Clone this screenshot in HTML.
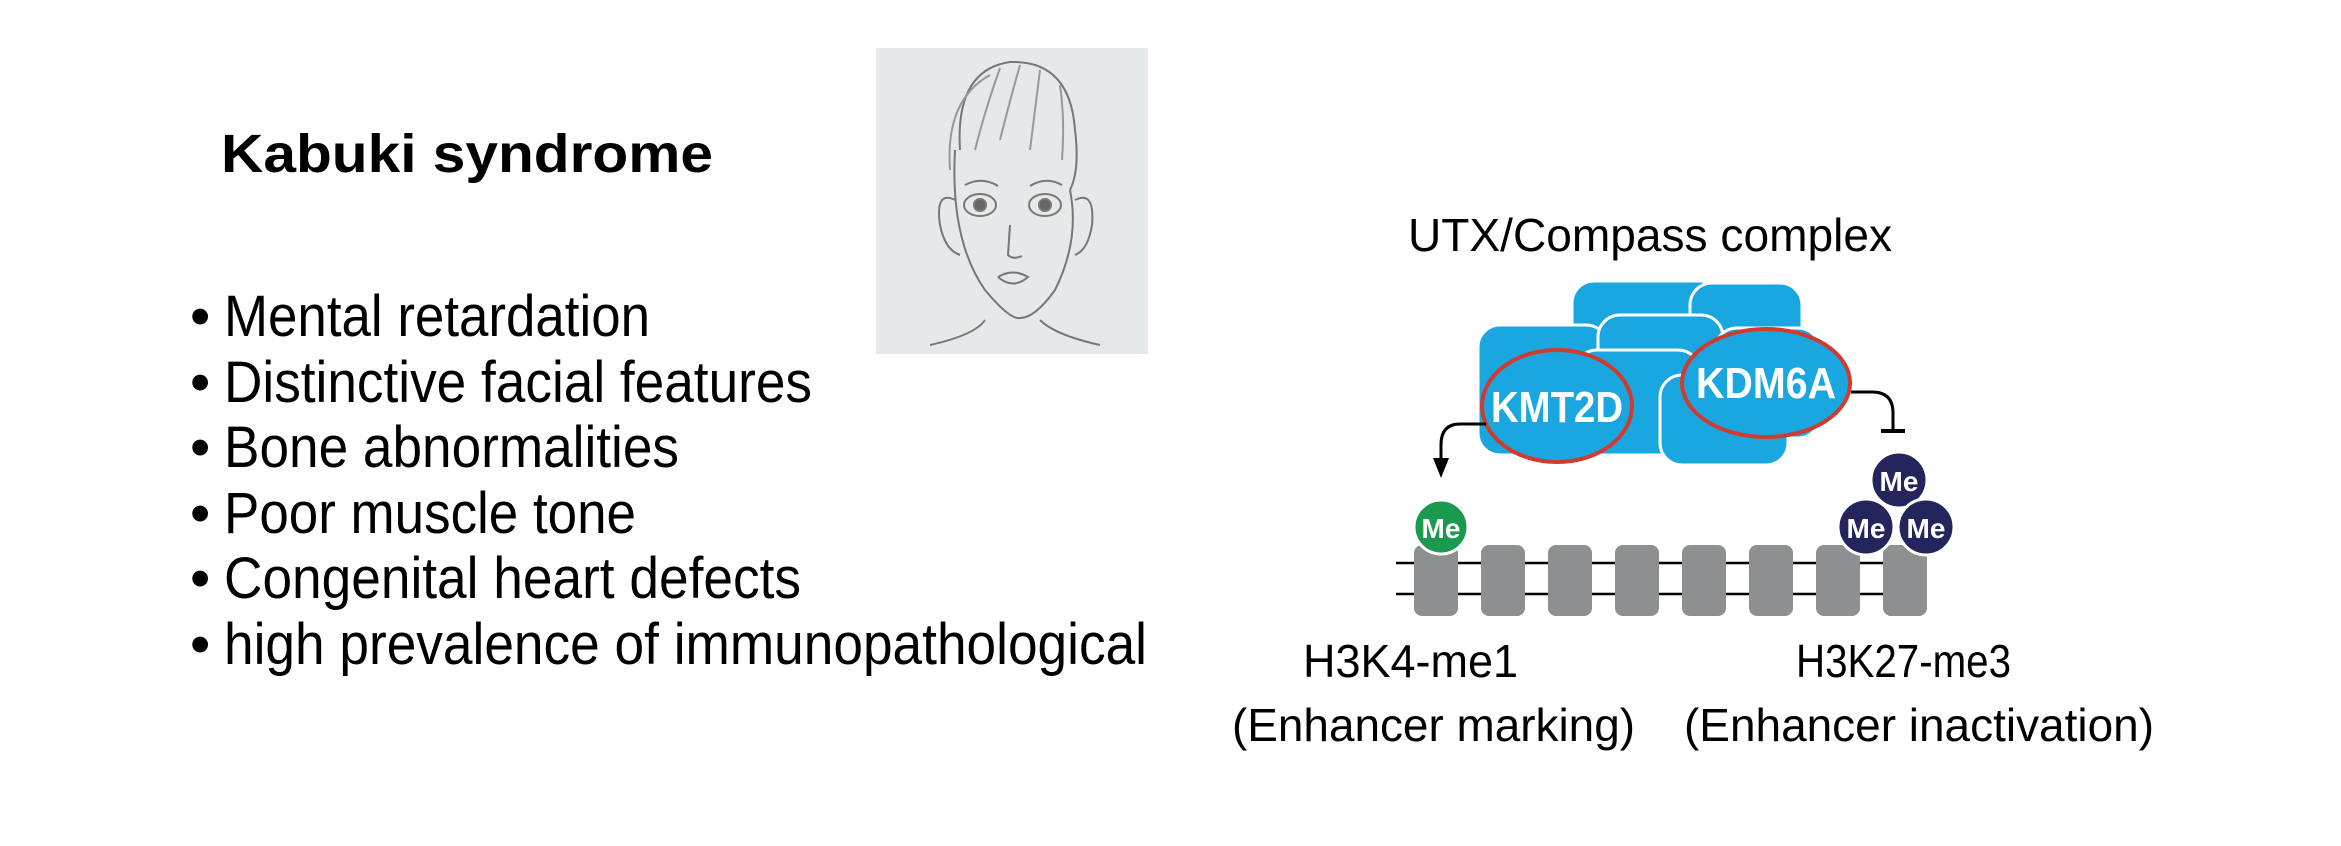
<!DOCTYPE html>
<html><head><style>
html,body{margin:0;padding:0;background:#fff;}
svg{display:block;}
</style></head><body>
<svg width="2341" height="846" viewBox="0 0 2341 846" xmlns="http://www.w3.org/2000/svg" font-family="Liberation Sans, Arial, sans-serif">
<rect width="2341" height="846" fill="#fff"/>
<text x="221" y="172" font-size="54" font-weight="bold" textLength="492" lengthAdjust="spacingAndGlyphs">Kabuki syndrome</text>
<g font-size="58">
<text x="190" y="336">•</text><text x="224" y="336" textLength="426" lengthAdjust="spacingAndGlyphs">Mental retardation</text>
<text x="190" y="402">•</text><text x="224" y="402" textLength="588" lengthAdjust="spacingAndGlyphs">Distinctive facial features</text>
<text x="190" y="467">•</text><text x="224" y="467" textLength="455" lengthAdjust="spacingAndGlyphs">Bone abnormalities</text>
<text x="190" y="533">•</text><text x="224" y="533" textLength="412" lengthAdjust="spacingAndGlyphs">Poor muscle tone</text>
<text x="190" y="598">•</text><text x="224" y="598" textLength="577" lengthAdjust="spacingAndGlyphs">Congenital heart defects</text>
<text x="190" y="664">•</text><text x="224" y="664" textLength="923" lengthAdjust="spacingAndGlyphs">high prevalence of immunopathological</text>
</g>
<!-- face sketch -->
<rect x="876" y="48" width="272" height="306" fill="#e6e9ea"/>
<g fill="none" stroke="#777" stroke-width="2">
<path d="M960 150 Q955 70 1010 62 Q1070 60 1075 130 Q1080 170 1070 190"/>
<path d="M955 150 Q950 240 985 290 Q1010 320 1020 318 Q1035 318 1055 290 Q1080 240 1070 190"/>
<path d="M950 170 Q945 100 990 75 M1000 68 Q985 110 975 150 M1020 65 Q1010 100 1000 140 M1040 70 Q1035 110 1030 150 M1060 85 Q1065 120 1062 160" stroke="#999"/>
<path d="M955 200 Q935 190 940 225 Q945 250 960 255"/>
<path d="M1075 200 Q1095 190 1092 225 Q1088 250 1075 255"/>
<ellipse cx="980" cy="205" rx="16" ry="11"/><ellipse cx="1045" cy="205" rx="16" ry="11"/>
<circle cx="980" cy="205" r="6" fill="#666"/><circle cx="1045" cy="205" r="6" fill="#666"/>
<path d="M965 185 Q982 176 998 186 M1030 186 Q1046 176 1062 185"/>
<path d="M1010 225 L1008 255 Q1013 260 1022 256"/>
<path d="M998 277 Q1013 268 1028 277 Q1013 290 998 277"/>
<path d="M985 320 Q975 335 930 345 M1040 320 Q1055 335 1100 345"/>
</g>
<text x="1408" y="251" font-size="46" textLength="484" lengthAdjust="spacingAndGlyphs">UTX/Compass complex</text>
<!-- blobs -->
<g fill="#1aa7e0" stroke="#fff" stroke-width="3">
<rect x="1572" y="281" width="150" height="80" rx="22"/>
<rect x="1690" y="283" width="112" height="80" rx="22"/>
<rect x="1478" y="325" width="130" height="130" rx="22"/>
<rect x="1598" y="315" width="125" height="120" rx="22"/>
<rect x="1715" y="328" width="105" height="110" rx="22"/>
<rect x="1575" y="350" width="125" height="105" rx="22"/>
<rect x="1660" y="375" width="128" height="90" rx="22"/>
</g>
<ellipse cx="1557" cy="406" rx="75" ry="56" fill="#1aa7e0" stroke="#d03a30" stroke-width="4"/>
<ellipse cx="1766" cy="383" rx="84" ry="54" fill="#1aa7e0" stroke="#d03a30" stroke-width="4"/>
<text x="1557" y="422" font-size="44" font-weight="bold" fill="#fff" text-anchor="middle" textLength="132" lengthAdjust="spacingAndGlyphs">KMT2D</text>
<text x="1766" y="398" font-size="44" font-weight="bold" fill="#fff" text-anchor="middle" textLength="140" lengthAdjust="spacingAndGlyphs">KDM6A</text>
<!-- connectors -->
<path d="M1486 424 L1460 424 Q1441 424 1441 445 L1441 462" fill="none" stroke="#000" stroke-width="3"/>
<path d="M1433 458 L1449 458 L1441 478 Z" fill="#000"/>
<path d="M1851 392 L1872 392 Q1893 392 1893 413 L1893 430" fill="none" stroke="#000" stroke-width="3"/>
<line x1="1881" y1="431" x2="1905" y2="431" stroke="#000" stroke-width="4"/>
<!-- nucleosomes -->
<line x1="1396" y1="563" x2="1926" y2="563" stroke="#000" stroke-width="2.5"/>
<line x1="1396" y1="594" x2="1926" y2="594" stroke="#000" stroke-width="2.5"/>
<g fill="#8e8f91">
<rect x="1414" y="545" width="44" height="71" rx="8"/>
<rect x="1481" y="545" width="44" height="71" rx="8"/>
<rect x="1548" y="545" width="44" height="71" rx="8"/>
<rect x="1615" y="545" width="44" height="71" rx="8"/>
<rect x="1682" y="545" width="44" height="71" rx="8"/>
<rect x="1749" y="545" width="44" height="71" rx="8"/>
<rect x="1816" y="545" width="44" height="71" rx="8"/>
<rect x="1883" y="545" width="44" height="71" rx="8"/>
</g>
<circle cx="1441" cy="527" r="27" fill="#1a9a4f" stroke="#fff" stroke-width="3"/>
<text x="1441" y="538" font-size="28" font-weight="bold" fill="#fff" text-anchor="middle">Me</text>
<g fill="#25255e" stroke="#fff" stroke-width="3">
<circle cx="1899" cy="480" r="28"/>
<circle cx="1866" cy="527" r="28"/>
<circle cx="1926" cy="527" r="28"/>
</g>
<g font-size="28" font-weight="bold" fill="#fff" text-anchor="middle">
<text x="1899" y="491">Me</text><text x="1866" y="538">Me</text><text x="1926" y="538">Me</text>
</g>
<g font-size="46">
<text x="1303" y="677" textLength="215" lengthAdjust="spacingAndGlyphs">H3K4-me1</text>
<text x="1232" y="741" textLength="403" lengthAdjust="spacingAndGlyphs">(Enhancer marking)</text>
<text x="1796" y="677" textLength="215" lengthAdjust="spacingAndGlyphs">H3K27-me3</text>
<text x="1684" y="741" textLength="470" lengthAdjust="spacingAndGlyphs">(Enhancer inactivation)</text>
</g>
</svg>
</body></html>
